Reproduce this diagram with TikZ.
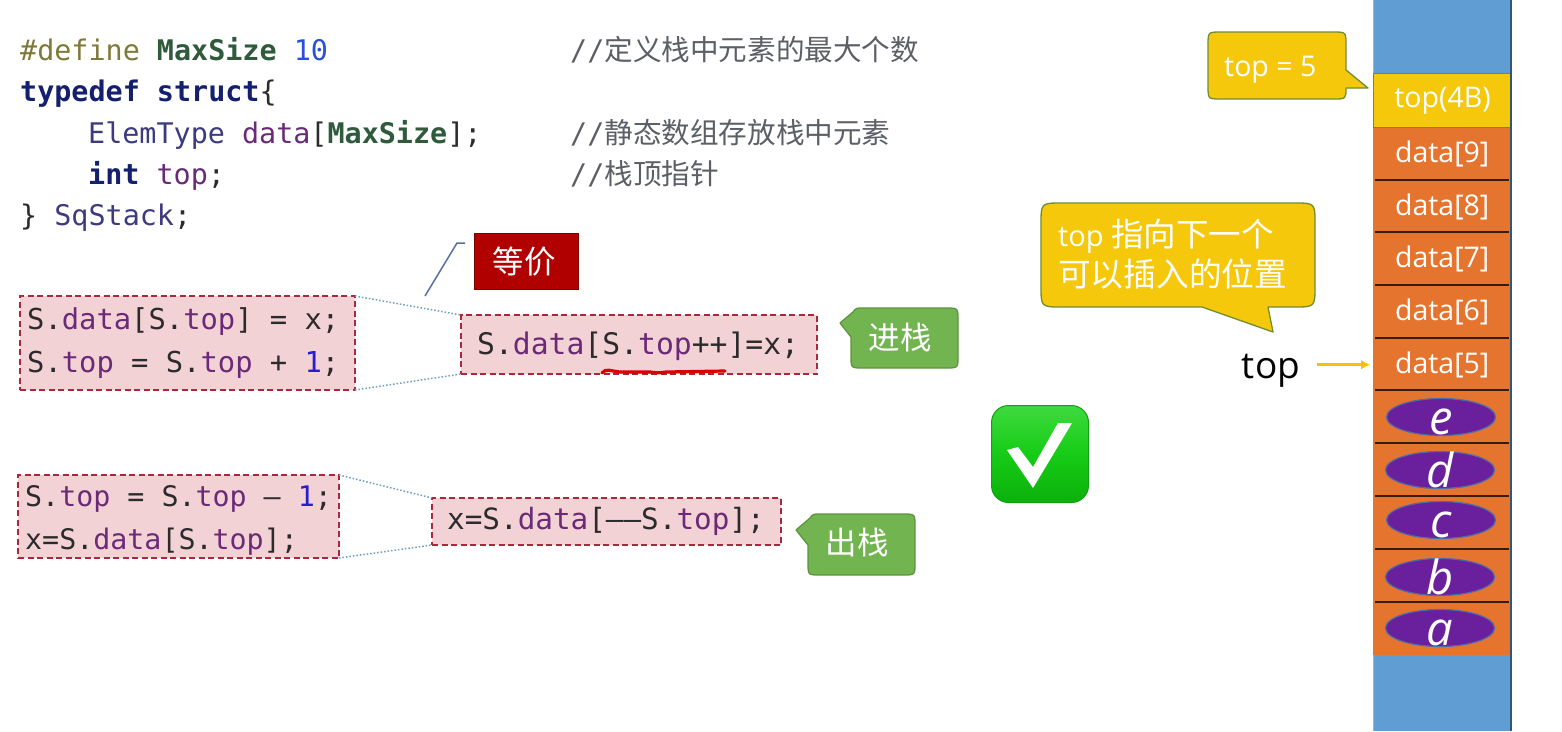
\documentclass[tikz,border=0pt]{standalone}
\usepackage{fontspec}
\setmonofont{DejaVu Sans Mono}
\setmainfont{Open Sans}
\newfontfamily\cjkf{Noto Sans CJK SC}
\usetikzlibrary{shapes.geometric,arrows.meta}
\definecolor{cKey}{HTML}{14206E}
\definecolor{cDef}{HTML}{7D7A3A}
\definecolor{cMac}{HTML}{2F5A3C}
\definecolor{cNum}{HTML}{2A4FD8}
\definecolor{cOne}{HTML}{2A1CCF}
\definecolor{cMem}{HTML}{6A2A78}
\definecolor{cTyp}{HTML}{3C3A80}
\definecolor{cTxt}{HTML}{2B2B2B}
\definecolor{cCom}{HTML}{5C6066}
\definecolor{cPink}{HTML}{F3D2D6}
\definecolor{cDash}{HTML}{A8283C}
\definecolor{cLink}{HTML}{6E9EC4}
\definecolor{cRed}{HTML}{B00000}
\definecolor{cGrn}{HTML}{72B550}
\definecolor{cGrnE}{HTML}{5E9440}
\definecolor{cYel}{HTML}{F6C80C}
\definecolor{cYelE}{HTML}{6F8F2E}
\definecolor{cBlue}{HTML}{5F9DD3}
\definecolor{cOra}{HTML}{E5742F}
\definecolor{cPur}{HTML}{6A1F9C}
\definecolor{cPurE}{HTML}{4F6CA8}
\definecolor{cOkT}{HTML}{3EDA3E}
\definecolor{cOkM}{HTML}{16CC16}
\definecolor{cOkB}{HTML}{0CB00C}
\definecolor{cOkE}{HTML}{12A012}
\newcommand{\mK}[1]{\textcolor{cKey}{\bfseries #1}}
\newcommand{\mD}[1]{\textcolor{cDef}{#1}}
\newcommand{\mM}[1]{\textcolor{cMac}{\bfseries #1}}
\newcommand{\mN}[1]{\textcolor{cNum}{#1}}
\newcommand{\mO}[1]{\textcolor{cOne}{#1}}
\newcommand{\mP}[1]{\textcolor{cMem}{#1}}
\newcommand{\mT}[1]{\textcolor{cTyp}{#1}}
\newcommand{\cellt}[1]{\raisebox{-3pt}{#1}}
\newcommand{\elt}[1]{\smash{\raisebox{-17pt}{#1}}}
\tikzset{
  x=1pt,y=-1pt,
  codeline/.style={anchor=base west,inner sep=0pt,text=cTxt,font=\fontsize{28.4}{30}\selectfont\ttfamily},
  comline/.style={anchor=base west,inner sep=0pt,text=cCom,font=\fontsize{28.6}{30}\selectfont\cjkf},
  codebox/.style={draw=cDash,fill=cPink,dash pattern=on 6pt off 3.5pt,line width=1.6pt,inner sep=0pt,outer sep=0pt,anchor=north west},
  linkline/.style={draw=cLink,line width=1.5pt,dotted},
  greenc/.style={fill=cGrn,draw=cGrnE,line width=1.3pt,line join=round},
  yellowc/.style={fill=cYel,draw=cYelE,line width=1.3pt,line join=round},
  whitecjk/.style={text=white,inner sep=0pt,font=\fontsize{31.5}{33}\selectfont\cjkf},
  cell/.style={minimum width=138pt,inner sep=0pt,text=white,anchor=north west,font=\fontsize{28.5}{30}\selectfont},
  sep/.style={draw=black!75!cOra,line width=1.6pt},
  elem/.style={ellipse,fill=cPur,draw=cPurE,line width=1.2pt,inner sep=0pt,minimum width=109pt,minimum height=37pt,text=white,font=\fontsize{47}{50}\selectfont\itshape},
}
\begin{document}
\begin{tikzpicture}
\useasboundingbox (0,0) rectangle (1562,731);
\fill[white] (0,0) rectangle (1562,731);

% code
\node[codeline] (l1) at (20,60) {\mD{\#define} \mM{MaxSize} \mN{10}};
\node[codeline] (l2) at (20,101) {\mK{typedef struct}\{};
\node[codeline] (l3) at (88,143) {\mT{ElemType} \mP{data}[\mM{MaxSize}];};
\node[codeline] (l4) at (88,184) {\mK{int} \mP{top};};
\node[codeline] (l5) at (20,225) {\} \mT{SqStack};};
\node[comline] (c1) at (570,60) {{\ttfamily\fontsize{28.4}{30}\selectfont //}定义栈中元素的最大个数};
\node[comline] (c3) at (570,143) {{\ttfamily\fontsize{28.4}{30}\selectfont //}静态数组存放栈中元素};
\node[comline] (c4) at (570,184) {{\ttfamily\fontsize{28.4}{30}\selectfont //}栈顶指针};

% code boxes
\node[codebox,minimum width=335pt,minimum height=94pt] (b1) at (20,296) {};
\node[codebox,minimum width=356pt,minimum height=59pt] (b2) at (461,315) {};
\node[codebox,minimum width=321pt,minimum height=83pt] (b3) at (18,475) {};
\node[codebox,minimum width=349pt,minimum height=47pt] (b4) at (432,498) {};
\draw[linkline] (b1.north east) -- (b2.north west);
\draw[linkline] (b1.south east) -- (b2.south west);
\draw[linkline] (b3.north east) -- (b4.north west);
\draw[linkline] (b3.south east) -- (b4.south west);

\node[codeline,font=\fontsize{28.8}{30}\selectfont\ttfamily] (t1) at (27,329) {S.\mP{data}[S.\mP{top}] = x;};
\node[codeline,font=\fontsize{28.8}{30}\selectfont\ttfamily] (t2) at (27,372) {S.\mP{top} = S.\mP{top} + \mO{1};};
\node[codeline,font=\fontsize{29.7}{30}\selectfont\ttfamily] (t3) at (477,354) {S.\mP{data}[S.\mP{top}++]=x;};
\node[codeline,font=\fontsize{28.3}{30}\selectfont\ttfamily] (t4) at (25,506) {S.\mP{top} = S.\mP{top} – \mO{1};};
\node[codeline,font=\fontsize{28.3}{30}\selectfont\ttfamily] (t5) at (25,549) {x=S.\mP{data}[S.\mP{top}];};
\node[codeline,font=\fontsize{29.3}{30}\selectfont\ttfamily] (t6) at (447,529) {x=S.\mP{data}[––S.\mP{top}];};

% red underline
\draw[red!85!black,line width=3.2pt,line cap=round] (602,373) .. controls (606,368) and (610,371) .. (620,372) -- (650,372) .. controls (656,373) and (660,373) .. (666,372) -- (725,371);

% equivalence label
\node[fill=cRed,draw=cRed!70!black,line width=.8pt,minimum width=104pt,minimum height=56pt,inner sep=0pt,anchor=north west,text=white,font=\fontsize{31.5}{33}\selectfont\cjkf] (eq) at (474,233) {\hspace{-4pt}等价};
\coordinate (eqA) at (425,296);
\coordinate (eqB) at (457,243);
\coordinate (eqC) at (465,243);
\draw[draw=cTyp!45!cLink,line width=1.5pt] (eqA) -- (eqB) -- (eqC);

% green callouts
\draw[greenc] (863,308) -- (946,308) .. controls (958,308) .. (958,320) -- (958,356) .. controls (958,368) .. (946,368) -- (863,368) .. controls (851,368) .. (851,356) -- (851,337) -- (840,323) -- (853,312) .. controls (856,308) .. (863,308) -- cycle;
\node[whitecjk] (push) at (900,338) {进栈};
\draw[greenc] (820,514) -- (903,514) .. controls (915,514) .. (915,526) -- (915,563) .. controls (915,575) .. (903,575) -- (820,575) .. controls (808,575) .. (808,563) -- (808,545) -- (796,530) -- (810,518) .. controls (813,514) .. (820,514) -- cycle;
\node[whitecjk] (pop) at (857,543) {出栈};

% yellow callouts
\draw[yellowc] (1221,32) -- (1333,32) .. controls (1346,32) .. (1346,45) -- (1346,70) -- (1368,88) -- (1346,88) .. controls (1346,99) .. (1333,99) -- (1221,99) .. controls (1208,99) .. (1208,86) -- (1208,45) .. controls (1208,32) .. (1221,32) -- cycle;
\node[text=white,inner sep=0pt,anchor=base west,font=\fontsize{28.5}{30}\selectfont] (ts) at (1224,76) {top = 5};
\draw[yellowc] (1062,203) -- (1294,203) .. controls (1315,203) .. (1315,224) -- (1315,286) .. controls (1315,307) .. (1294,307) -- (1268,307) -- (1273,332) -- (1202,307) -- (1062,307) .. controls (1041,307) .. (1041,286) -- (1041,224) .. controls (1041,203) .. (1062,203) -- cycle;
\node[text=white,inner sep=0pt,anchor=base west,font=\fontsize{29}{31}\selectfont] (y1) at (1058,246) {top {\cjkf\fontsize{32.5}{34}\selectfont 指向下一个}};
\node[text=white,inner sep=0pt,anchor=base west,font=\fontsize{32.7}{34}\selectfont\cjkf] (y2) at (1058,286) {可以插入的位置};

% stack
\node[cell,fill=cBlue,minimum height=73pt] (sTop) at (1373,0) {};
\node[cell,fill=cBlue,minimum height=76pt] (sBot) at (1373,655) {};
\node[cell,fill=cOra,minimum height=53pt] (s9) at (1373,127) {\cellt{data[9]}};
\node[cell,fill=cOra,minimum height=53pt] (s8) at (1373,180) {\cellt{data[8]}};
\node[cell,fill=cOra,minimum height=53pt] (s7) at (1373,232) {\cellt{data[7]}};
\node[cell,fill=cOra,minimum height=53pt] (s6) at (1373,285) {\cellt{data[6]}};
\node[cell,fill=cOra,minimum height=53pt] (s5) at (1373,338) {\cellt{data[5]}};
\node[cell,fill=cOra,minimum height=53pt] (s4) at (1373,390) {};
\node[cell,fill=cOra,minimum height=53pt] (s3) at (1373,443) {};
\node[cell,fill=cOra,minimum height=53pt] (s2) at (1373,496) {};
\node[cell,fill=cOra,minimum height=53pt] (s1) at (1373,549) {};
\node[cell,fill=cOra,minimum height=53pt] (s0) at (1373,602) {};
\node[cell,fill=cYel,draw=cYelE,line width=1.2pt,minimum height=54pt] (sY) at (1373,73) {\cellt{top(4B)}};
\foreach \y in {180,232,285,338,390,443,496,549,602}{
  \draw[sep] (1375,\y) -- (1509,\y);
}
\draw[draw=black!45!cBlue,line width=1.3pt] (1511,0) -- (1511,731);
\draw[draw=cBlue!70!white,line width=1pt] (1373,0) -- (1373,73) (1373,655) -- (1373,731);

\node[elem] (ee) at (1441,417) {\elt{e}};
\node[elem] (ed) at (1440,470) {\elt{d}};
\node[elem] (ec) at (1441,520) {\elt{c}};
\node[elem] (eb) at (1440,577) {\elt{b}};
\node[elem] (ea) at (1440,628) {\elt{a}};

% top pointer
\node[inner sep=0pt,text=black,font=\fontsize{37}{40}\selectfont] (tl) at (1271,371) {top};
\draw[draw=cYel!90!orange,line width=3pt,-{Latex[length=9pt,width=10pt]},shorten <=17pt,shorten >=3pt] (tl.east |- s5.west) -- (s5.west);

% check mark
\node[rounded corners=17pt,draw=cOkE,line width=1pt,top color=cOkT,bottom color=cOkB,middle color=cOkM,minimum width=97pt,minimum height=97pt,inner sep=0pt,anchor=north west] (ok) at (991,405) {};
\fill[white,line join=round] (1007,450) -- (1018,447) -- (1033,467) -- (1058,423) -- (1072,423) -- (1033,488) -- cycle;
\end{tikzpicture}
\end{document}
